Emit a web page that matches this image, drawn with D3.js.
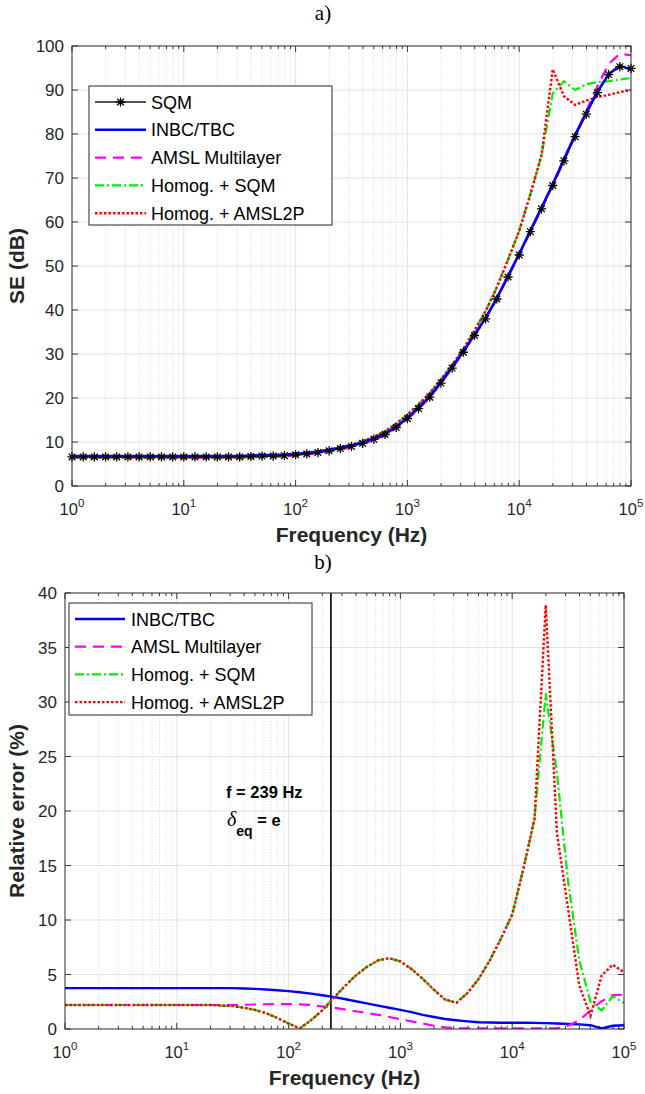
<!DOCTYPE html>
<html><head><meta charset="utf-8">
<script src="https://cdn.jsdelivr.net/npm/d3@7"></script>
<style>body{margin:0;background:#fff}svg{display:block}</style>
</head><body><svg id="c" width="645" height="1094"></svg>
<script>
// ---------- DATA ----------
const freqHz = [1,1.259,1.585,1.995,2.512,3.162,3.981,5.012,6.310,7.943,
 10,12.59,15.85,19.95,25.12,31.62,39.81,50.12,63.10,79.43,
 100,125.9,158.5,199.5,251.2,316.2,398.1,501.2,631.0,794.3,
 1000,1259,1585,1995,2512,3162,3981,5012,6310,7943,
 10000,12589,15849,19953,25119,31623,39811,50119,63096,79433,100000];

// a) shielding effectiveness (dB)
const seSQM = [6.6,6.6,6.6,6.6,6.6,6.6,6.6,6.6,6.6,6.6,
 6.6,6.6,6.6,6.6,6.6,6.6,6.7,6.8,6.8,6.9,
 7.1,7.3,7.6,8.0,8.5,9.0,9.7,10.6,11.7,13.3,
 15.3,17.6,20.2,23.4,26.8,30.4,34.2,38.0,42.5,47.5,
 52.5,57.8,63.0,68.3,73.9,79.4,84.5,89.4,93.5,95.3,94.9];
const seINBC = [6.85,6.85,6.85,6.85,6.85,6.85,6.85,6.85,6.85,6.85,
 6.85,6.85,6.85,6.85,6.85,6.85,6.95,7.05,7.05,7.15,
 7.35,7.55,7.85,8.25,8.75,9.25,9.95,10.85,11.95,13.55,
 15.55,17.85,20.45,23.65,27.05,30.65,34.45,38.25,42.75,47.8,
 52.8,58.1,63.35,68.65,74.3,79.8,84.85,89.7,93.55,95.6,94.6];
const seAMSL = [6.45,6.45,6.45,6.45,6.45,6.45,6.45,6.45,6.45,6.45,
 6.45,6.45,6.45,6.45,6.45,6.45,6.55,6.65,6.65,6.75,
 6.94,7.14,7.43,7.83,8.33,8.84,9.54,10.44,11.55,13.15,
 15.16,17.48,20.1,23.33,26.76,30.38,34.18,37.98,42.48,47.48,
 52.48,57.78,62.97,68.27,73.84,79.64,85.2,90.9,95.9,98.25,97.9];
const seHomSQM = [6.45,6.45,6.45,6.45,6.45,6.45,6.45,6.45,6.45,6.45,
 6.45,6.45,6.45,6.45,6.46,6.46,6.57,6.68,6.70,6.83,
 7.06,7.3,7.66,8.14,8.74,9.35,10.18,11.2,12.44,14.16,
 16.25,18.57,21.13,24.24,27.52,31.13,35.33,39.75,45.18,51.44,
 58.0,66.3,75.2,89.2,92.0,90.0,91.3,91.8,92.0,92.4,92.7];
const seHomAMSL = [6.45,6.45,6.45,6.45,6.45,6.45,6.45,6.45,6.45,6.45,
 6.45,6.45,6.45,6.45,6.46,6.46,6.57,6.68,6.70,6.83,
 7.06,7.3,7.66,8.14,8.74,9.35,10.18,11.2,12.44,14.16,
 16.25,18.57,21.13,24.24,27.52,31.13,35.33,39.75,45.18,51.44,
 58.0,66.3,75.2,94.7,88.6,86.6,87.6,88.4,88.9,89.5,90.0];

// b) relative error (%)
const errINBC = [3.75,3.75,3.75,3.75,3.75,3.75,3.75,3.75,3.75,3.75,
 3.75,3.75,3.75,3.75,3.75,3.75,3.72,3.68,3.62,3.55,
 3.47,3.37,3.25,3.1,2.95,2.75,2.55,2.35,2.15,1.95,
 1.75,1.55,1.3,1.1,0.92,0.8,0.7,0.62,0.6,0.58,
 0.58,0.58,0.56,0.54,0.5,0.46,0.42,0.35,0.05,0.3,0.35];
const errAMSL = [2.2,2.2,2.2,2.2,2.2,2.2,2.2,2.2,2.2,2.2,
 2.2,2.2,2.2,2.2,2.2,2.2,2.22,2.25,2.27,2.28,
 2.28,2.26,2.2,2.08,1.95,1.8,1.63,1.47,1.3,1.1,
 0.9,0.7,0.5,0.3,0.15,0.07,0.05,0.05,0.05,0.05,
 0.05,0.05,0.05,0.05,0.08,0.3,0.8,1.7,2.55,3.1,3.15];
const errHomSQM = [2.2,2.2,2.2,2.2,2.2,2.2,2.2,2.2,2.2,2.2,
 2.2,2.2,2.2,2.2,2.15,2.1,1.95,1.75,1.45,1.0,
 0.5,0.05,0.8,1.7,2.8,3.9,4.9,5.7,6.3,6.5,
 6.2,5.5,4.6,3.6,2.7,2.4,3.3,4.6,6.3,8.3,
 10.5,14.7,19.3,30.8,23.5,13.5,6.3,2.5,1.7,3.0,2.4];
const errHomAMSL = [2.2,2.2,2.2,2.2,2.2,2.2,2.2,2.2,2.2,2.2,
 2.2,2.2,2.2,2.2,2.15,2.1,1.95,1.75,1.45,1.0,
 0.5,0.05,0.8,1.7,2.8,3.9,4.9,5.7,6.3,6.5,
 6.2,5.5,4.6,3.6,2.7,2.4,3.3,4.6,6.3,8.3,
 10.5,14.7,19.3,38.9,18.0,11.0,4.0,1.2,4.9,5.9,5.2];

const xTickExp = [0,1,2,3,4,5];
const seTicks = [0,10,20,30,40,50,60,70,80,90,100];
const errTicks = [0,5,10,15,20,25,30,35,40];
const markerFreq = 239;

const legendA = ["SQM","INBC/TBC","AMSL Multilayer","Homog. + SQM","Homog. + AMSL2P"];
const legendB = ["INBC/TBC","AMSL Multilayer","Homog. + SQM","Homog. + AMSL2P"];

// ---------- STYLES ----------
const styles = {
  "SQM": {color:"#1a1a1a", width:1.6, dash:null},
  "INBC/TBC": {color:"#0000ff", width:2.4, dash:null},
  "AMSL Multilayer": {color:"#ff00ff", width:2.2, dash:"11,7"},
  "Homog. + SQM": {color:"#00ee00", width:2.2, dash:"9,3,2,3"},
  "Homog. + AMSL2P": {color:"#ff0000", width:2.4, dash:"2.5,2"}
};
const FONT = "'Liberation Sans', Arial, sans-serif";
const AX = "#262626";
const svg = d3.select("#c");

function asterisk(g, cx, cy){
  const r=4.6, a=3.3;
  g.append("path")
   .attr("d", `M${cx-r},${cy}H${cx+r}M${cx},${cy-r}V${cy+r}M${cx-a},${cy-a}L${cx+a},${cy+a}M${cx-a},${cy+a}L${cx+a},${cy-a}`)
   .attr("stroke","#000").attr("stroke-width",1.3).attr("fill","none");
}

function panel(o){
  const x = d3.scaleLog().domain([1,1e5]).range([o.left,o.right]);
  const y = d3.scaleLinear().domain([0,o.ymax]).range([o.bottom,o.top]);
  const g = svg.append("g");
  const majorX = xTickExp.map(e=>Math.pow(10,e));
  const minorX = [];
  for(let e=0;e<5;e++) for(let k=2;k<=9;k++) minorX.push(k*Math.pow(10,e));

  // grid
  g.selectAll(null).data(minorX).join("line")
   .attr("x1",d=>x(d)).attr("x2",d=>x(d)).attr("y1",o.top).attr("y2",o.bottom)
   .attr("stroke","#c8c8c8").attr("stroke-width",0.8).attr("stroke-dasharray","1,2.2");
  g.selectAll(null).data(majorX.slice(1,-1)).join("line")
   .attr("x1",d=>x(d)).attr("x2",d=>x(d)).attr("y1",o.top).attr("y2",o.bottom)
   .attr("stroke","#e2e2e2").attr("stroke-width",1);
  g.selectAll(null).data(o.yticks.slice(1,-1)).join("line")
   .attr("x1",o.left).attr("x2",o.right).attr("y1",d=>y(d)).attr("y2",d=>y(d))
   .attr("stroke","#e2e2e2").attr("stroke-width",1);

  // ticks (inside, all four sides)
  const tk = g.append("g").attr("stroke",AX).attr("stroke-width",0.9);
  majorX.forEach(v=>{
    tk.append("line").attr("x1",x(v)).attr("x2",x(v)).attr("y1",o.bottom).attr("y2",o.bottom-6);
    tk.append("line").attr("x1",x(v)).attr("x2",x(v)).attr("y1",o.top).attr("y2",o.top+6);
  });
  minorX.forEach(v=>{
    tk.append("line").attr("x1",x(v)).attr("x2",x(v)).attr("y1",o.bottom).attr("y2",o.bottom-3);
    tk.append("line").attr("x1",x(v)).attr("x2",x(v)).attr("y1",o.top).attr("y2",o.top+3);
  });
  o.yticks.forEach(v=>{
    tk.append("line").attr("x1",o.left).attr("x2",o.left+6).attr("y1",y(v)).attr("y2",y(v));
    tk.append("line").attr("x1",o.right).attr("x2",o.right-6).attr("y1",y(v)).attr("y2",y(v));
  });

  // tick labels
  o.yticks.forEach(v=>{
    g.append("text").attr("x",o.left-8).attr("y",y(v)+6).attr("text-anchor","end")
     .attr("font-family",FONT).attr("font-size",17).attr("fill",AX).text(v);
  });
  xTickExp.forEach(e=>{
    const t = g.append("text").attr("x",x(Math.pow(10,e))).attr("y",o.bottom+29)
     .attr("text-anchor","middle").attr("font-family",FONT).attr("font-size",16.5).attr("fill",AX);
    t.append("tspan").text("10");
    t.append("tspan").attr("dy",-8).attr("font-size",11.5).text(e);
  });

  // axis titles
  g.append("text").attr("x",(o.left+o.right)/2).attr("y",o.bottom+56).attr("text-anchor","middle")
   .attr("font-family",FONT).attr("font-weight","bold").attr("font-size",21).attr("fill",AX)
   .text("Frequency (Hz)");
  g.append("text").attr("transform",`translate(${o.ylabX},${(o.top+o.bottom)/2}) rotate(-90)`)
   .attr("text-anchor","middle").attr("font-family",FONT).attr("font-weight","bold")
   .attr("font-size",21).attr("fill",AX).text(o.ylabel);

  // panel title
  svg.append("text").attr("x",323).attr("y",o.titleY).attr("text-anchor","middle")
   .attr("font-family","'Liberation Serif','Times New Roman',serif").attr("font-size",21)
   .attr("fill","#000").text(o.title);

  return {x,y,g};
}

function drawSeries(P, name, vals, clipId){
  const s = styles[name];
  const data = freqHz.map((f,i)=>({f, v: vals[i]}));
  const line = d3.line().x(d=>P.x(d.f)).y(d=>P.y(d.v));
  P.g.append("path").datum(data).attr("d",line).attr("fill","none")
   .attr("stroke",s.color).attr("stroke-width",s.width)
   .attr("stroke-dasharray",s.dash).attr("clip-path",`url(#${clipId})`);
  return data;
}

function legend(g, names, bx, by, bw, bh, y0, step, lx0, lx1, tx){
  g.append("rect").attr("x",bx).attr("y",by).attr("width",bw).attr("height",bh)
   .attr("fill","#fff").attr("stroke",AX).attr("stroke-width",1);
  names.forEach((n,i)=>{
    const s = styles[n], yy = y0 + i*step;
    g.append("line").attr("x1",lx0).attr("x2",lx1).attr("y1",yy).attr("y2",yy)
     .attr("stroke",s.color).attr("stroke-width",s.width).attr("stroke-dasharray",s.dash);
    if(n==="SQM") asterisk(g,(lx0+lx1)/2,yy);
    g.append("text").attr("x",tx).attr("y",yy+6.5).attr("font-family",FONT)
     .attr("font-size",18).attr("fill","#000").text(n);
  });
}

const defs = svg.append("defs");

// ---------- PANEL a ----------
const A = panel({left:72,right:631,top:46,bottom:486,ymax:100,yticks:seTicks,
  ylabel:"SE (dB)", ylabX:24, title:"a)", titleY:20});
defs.append("clipPath").attr("id","clipA").append("rect").attr("x",72).attr("y",40).attr("width",559).attr("height",446);
drawSeries(A,"AMSL Multilayer",seAMSL,"clipA");
drawSeries(A,"Homog. + SQM",seHomSQM,"clipA");
drawSeries(A,"Homog. + AMSL2P",seHomAMSL,"clipA");
const sqmData = drawSeries(A,"SQM",seSQM,"clipA");
drawSeries(A,"INBC/TBC",seINBC,"clipA");
sqmData.forEach(d=>asterisk(A.g, A.x(d.f), A.y(d.v)));
A.g.append("rect").attr("x",72).attr("y",46).attr("width",559).attr("height",440)
 .attr("fill","none").attr("stroke",AX).attr("stroke-width",1);
legend(A.g, legendA, 89, 86, 243, 139, 102, 27.8, 95, 146, 151);

// ---------- PANEL b ----------
const B = panel({left:65,right:624,top:593,bottom:1029,ymax:40,yticks:errTicks,
  ylabel:"Relative error (%)", ylabX:24, title:"b)", titleY:569});
defs.append("clipPath").attr("id","clipB").append("rect").attr("x",65).attr("y",593).attr("width",559).attr("height",436);
B.g.append("line").attr("x1",B.x(markerFreq)).attr("x2",B.x(markerFreq))
 .attr("y1",593).attr("y2",1029).attr("stroke","#000").attr("stroke-width",1.6);
drawSeries(B,"INBC/TBC",errINBC,"clipB");
drawSeries(B,"AMSL Multilayer",errAMSL,"clipB");
drawSeries(B,"Homog. + SQM",errHomSQM,"clipB");
drawSeries(B,"Homog. + AMSL2P",errHomAMSL,"clipB");
B.g.append("rect").attr("x",65).attr("y",593).attr("width",559).attr("height",436)
 .attr("fill","none").attr("stroke",AX).attr("stroke-width",1);
legend(B.g, legendB, 69, 603, 243, 112, 619, 27.7, 75, 125, 131);

// annotation
B.g.append("text").attr("x",226).attr("y",798).attr("font-family",FONT).attr("font-weight","bold")
 .attr("font-size",16.5).attr("fill","#000").text("f = 239 Hz");
const an = B.g.append("text").attr("x",227).attr("y",826).attr("font-family",FONT)
 .attr("font-weight","bold").attr("font-size",16.5).attr("fill","#000");
an.append("tspan").attr("font-family","'Liberation Serif','DejaVu Serif',serif").attr("font-style","italic")
 .attr("font-weight","normal").attr("font-size",20).text("δ");
an.append("tspan").attr("dy",10).attr("font-size",14).text("eq");
an.append("tspan").attr("dy",-10).text(" = e");
</script></body></html>
